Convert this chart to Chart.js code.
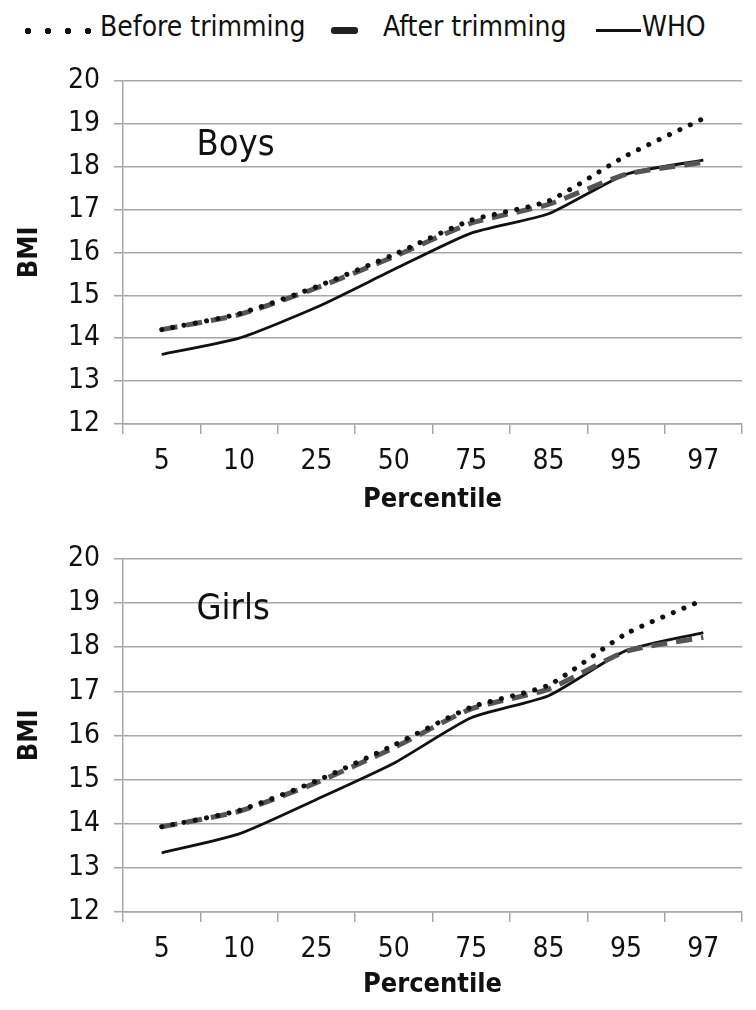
<!DOCTYPE html>
<html>
<head>
<meta charset="utf-8">
<script src="https://cdn.jsdelivr.net/npm/chart.js@4.4.1/dist/chart.umd.min.js"></script>
<style>
  body { margin: 0; background: #fff; width: 756px; height: 1010px; position: relative; overflow: hidden;
         font-family: "DejaVu Sans Condensed", "Liberation Sans Narrow", "DejaVu Sans", sans-serif; }
  #legend { position: absolute; left: 0; top: 10px; height: 40px; width: 756px; font-size: 28px; color: #111; }
  #legend span { position: absolute; }
  .dots { left: 18px; top: 17px; width: 80px; height: 8px;
          background-image: radial-gradient(circle, #111 3px, transparent 3.5px);
          background-size: 20px 8px; }
  canvas { position: absolute; left: 0; }
</style>
</head>
<body>
<div id="legend">
  <span class="dots"></span>
  <span style="left:100px;top:0;">Before trimming</span>
  <span style="left:331px;width:27px;top:17px;height:7px;border-radius:3px;background:#222;"></span>
  <span style="left:383px;top:0;">After trimming</span>
  <span style="left:596px;width:45px;top:19px;height:3px;background:#111;"></span>
  <span style="left:642px;top:0;">WHO</span>
</div>
<canvas id="boysChart" width="756" height="470" style="top:50px"></canvas>
<canvas id="girlsChart" width="756" height="477" style="top:528px"></canvas>
<script>
const percentiles = ["5", "10", "25", "50", "75", "85", "95", "97"];

const boysBefore = [14.2, 14.57, 15.2, 15.95, 16.75, 17.2, 18.25, 19.12];
const boysAfter = [14.2, 14.55, 15.17, 15.9, 16.68, 17.12, 17.82, 18.1];
const boysWho = [13.62, 14.0, 14.72, 15.6, 16.45, 16.9, 17.82, 18.15];

const girlsBefore = [13.93, 14.3, 14.97, 15.78, 16.64, 17.14, 18.3, 19.07];
const girlsAfter = [13.93, 14.28, 14.93, 15.72, 16.6, 17.05, 17.9, 18.22];
const girlsWho = [13.34, 13.77, 14.55, 15.37, 16.4, 16.9, 17.92, 18.33];

const fontFamily = '"DejaVu Sans Condensed", "Liberation Sans Narrow", "DejaVu Sans", sans-serif';
const gridColor = "#a6a6a6";

// draws "Boys" / "Girls" inside the plot
const panelLabel = {
  id: "panelLabel",
  afterDatasetsDraw(chart, args, opts) {
    const ctx = chart.ctx;
    const x = chart.scales.x.getPixelForValue(opts.xPos);
    const y = chart.scales.y.getPixelForValue(opts.yPos);
    ctx.save();
    ctx.font = "36px " + fontFamily;
    ctx.fillStyle = "#111";
    ctx.textAlign = "left";
    ctx.textBaseline = "middle";
    ctx.fillText(opts.text, x, y);
    ctx.restore();
  }
};

function makeChart(id, before, after, who, label, labelY, topPad, xHeight) {
  const ctx = document.getElementById(id).getContext("2d");
  return new Chart(ctx, {
    type: "line",
    data: {
      labels: percentiles,
      datasets: [
        {
          label: "Before trimming",
          data: before,
          borderColor: "#111",
          borderWidth: 5,
          borderDash: [0.1, 11.3],
          borderCapStyle: "round",
          pointRadius: 0,
          tension: 0.2,
        },
        {
          label: "After trimming",
          data: after,
          borderColor: "#555",
          borderWidth: 5,
          borderDash: [16, 9],
          pointRadius: 0,
          tension: 0.2,
        },
        {
          label: "WHO",
          data: who,
          borderColor: "#111",
          borderWidth: 2.8,
          pointRadius: 0,
          tension: 0.2,
        },
      ],
    },
    options: {
      responsive: false,
      animation: false,
      layout: { padding: { top: topPad, right: 14, left: 0, bottom: 0 } },
      plugins: {
        legend: { display: false },
        tooltip: { enabled: false },
        panelLabel: { text: label, xPos: 0.45, yPos: labelY },
      },
      scales: {
        x: {
          offset: true,
          grid: { offset: true, drawOnChartArea: false, drawTicks: true, tickLength: 10, color: gridColor, lineWidth: 1.5 },
          border: { color: gridColor, width: 1.5 },
          ticks: { color: "#111", font: { family: fontFamily, size: 28 }, padding: 11 },
          title: { display: true, text: "Percentile", color: "#111", font: { family: fontFamily, size: 27, weight: "bold" }, padding: { top: 0, bottom: 4 } },
          afterFit(scale) { scale.height = xHeight; },
        },
        y: {
          min: 12,
          max: 20,
          ticks: { stepSize: 1, color: "#111", font: { family: fontFamily, size: 28 }, padding: 14 },
          grid: { color: gridColor, lineWidth: 1.5, tickLength: 9 },
          border: { color: gridColor, width: 1.5 },
          title: { display: true, text: "BMI", color: "#111", font: { family: fontFamily, size: 27, weight: "bold" }, padding: { top: 14, bottom: 0 } },
          afterFit(scale) { scale.width = 123; },
        },
      },
    },
    plugins: [panelLabel],
  });
}

makeChart("boysChart", boysBefore, boysAfter, boysWho, "Boys", 18.5, 28, 96);
makeChart("girlsChart", girlsBefore, girlsAfter, girlsWho, "Girls", 18.85, 30, 93);
</script>
</body>
</html>
